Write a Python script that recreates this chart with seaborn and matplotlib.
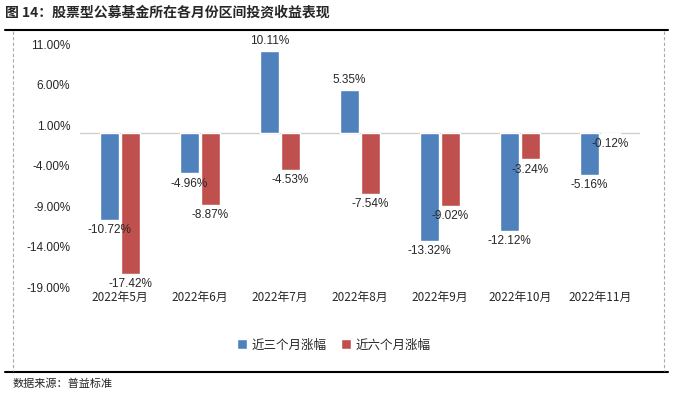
import pandas as pd
import matplotlib.pyplot as plt
import seaborn as sns
from matplotlib.lines import Line2D

months = ["2022年5月", "2022年6月", "2022年7月", "2022年8月", "2022年9月", "2022年10月", "2022年11月"]
three_month = [-10.72, -4.96, 10.11, 5.35, -13.32, -12.12, -5.16]
six_month = [-17.42, -8.87, -4.53, -7.54, -9.02, -3.24, -0.12]
series_names = ["近三个月涨幅", "近六个月涨幅"]
yticks = [-19, -14, -9, -4, 1, 6, 11]

sns.set_theme(style="white")
plt.rcParams['font.family'] = ['Noto Sans CJK SC', 'DejaVu Sans']
plt.rcParams['axes.unicode_minus'] = False

num_font = ['Liberation Sans', 'DejaVu Sans']

df = pd.DataFrame({
    "month": months * 2,
    "value": three_month + six_month,
    "series": [series_names[0]] * len(months) + [series_names[1]] * len(months),
})

fig = plt.figure(figsize=(6.74, 3.96), dpi=100)
ax = fig.add_axes([80 / 674, 109 / 396, 560 / 674, 255 / 396])

sns.barplot(data=df, x="month", y="value", hue="series",
            palette=["#4F81BD", "#C0504D"], saturation=1, width=0.52, gap=0.12,
            ax=ax, legend=False)

for cont in ax.containers:
    ax.bar_label(cont, labels=[f"{v:.2f}%" for v in cont.datavalues],
                 fontsize=8.5, padding=3, family=num_font)

ax.set_ylim(-19, 12.5)
ax.set_yticks(yticks)
ax.set_yticklabels([f"{t:.2f}%" for t in yticks], fontsize=8.5, family=num_font)
ax.tick_params(axis='y', length=0, pad=7)
ax.tick_params(axis='x', length=0, pad=3, labelsize=8.5)
ax.set_xlabel("")
ax.set_ylabel("")
for s in ax.spines.values():
    s.set_visible(False)
ax.axhline(0, color="#d0d0d0", lw=1, zorder=0)

# legend
handles = [Line2D([0], [0], marker='s', color='w', markerfacecolor=c, markersize=7)
           for c in ["#4F81BD", "#C0504D"]]
fig.legend(handles, series_names, loc='center', bbox_to_anchor=(333 / 674, 1 - 345 / 396),
           ncol=2, frameon=False, fontsize=9, handlelength=1.0, handletextpad=0.3,
           columnspacing=1.0)

# frame decorations
fig.text(5 / 674, 1 - 13 / 396, "图 14：股票型公募基金所在各月份区间投资收益表现",
         fontsize=10, fontweight='bold', va='center', ha='left')
fig.add_artist(Line2D([5 / 674, 668 / 674], [1 - 30 / 396] * 2, color='black', lw=1.5))
fig.add_artist(Line2D([5 / 674, 668 / 674], [1 - 372 / 396] * 2, color='black', lw=1.5))
for x in [13, 664]:
    fig.add_artist(Line2D([x / 674] * 2, [1 - 31 / 396, 1 - 371 / 396],
                          color='#aaaaaa', lw=0.8, ls=(0, (3, 2))))
fig.text(13 / 674, 1 - 384 / 396, "数据来源：普益标准", fontsize=8, va='center', ha='left')

fig.savefig("out.png", dpi=100)
